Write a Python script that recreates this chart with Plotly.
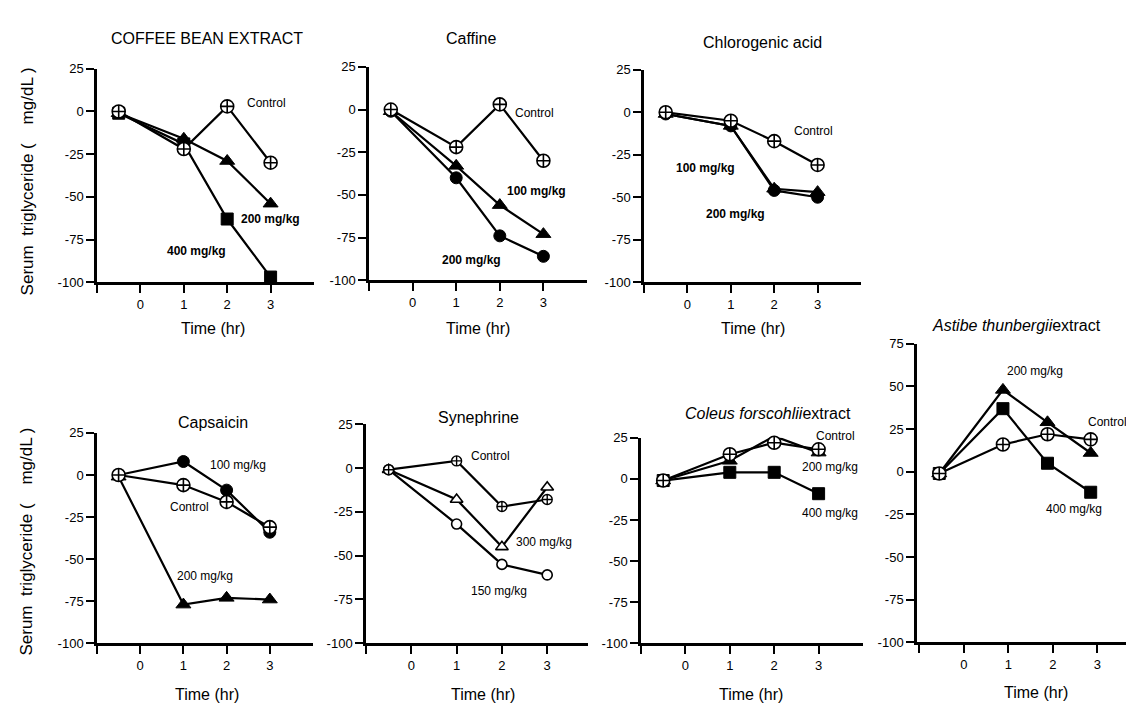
import plotly.graph_objects as go

# ---------------- data ----------------
TIME = [-0.5, 1, 2, 3]
ASTIBE_TIME = [-0.55, 0.88, 1.88, 2.85]
X_TICKS = [-1, 0, 1, 2, 3]
X_TICK_TEXT = ["", "0", "1", "2", "3"]
Y_TICKS = [-100, -75, -50, -25, 0, 25]
Y_TICKS_ASTIBE = [-100, -75, -50, -25, 0, 25, 50, 75]

coffee_control = [0, -22, 3, -30]
coffee_200 = [-1, -16, -29, -54]
coffee_400 = [-1, -19, -63, -97]

caffine_control = [0, -22, 3, -30]
caffine_100 = [-1, -33, -56, -73]
caffine_200 = [-1, -40, -74, -86]

chloro_control = [0, -5, -17, -31]
chloro_100 = [-1, -8, -45, -47]
chloro_200 = [-1, -8, -46, -50]

caps_control = [0, -6, -16, -31]
caps_100 = [0, 8, -9, -34]
caps_200 = [-1, -77, -73, -74]

syn_control = [-1, 4, -22, -18]
syn_300 = [-1, -18, -45, -11]
syn_150 = [-1, -32, -55, -61]

coleus_control = [-1, 15, 22, 18]
coleus_200 = [-1, 11, 26, 16]
coleus_400 = [-1, 4, 4, -9]

astibe_control = [-1, 16, 22, 19]
astibe_200 = [-1, 48, 29, 11]
astibe_400 = [-1, 37, 5, -12]

TITLES = ["COFFEE BEAN EXTRACT", "Caffine", "Chlorogenic acid", "Capsaicin",
          "Synephrine", "<i>Coleus forscohlii</i>extract", "<i>Astibe thunbergii</i>extract"]
X_TITLE = "Time (hr)"
Y_TITLE = "Serum  triglyceride (\u00a0\u00a0\u00a0 mg/dL )"

# ---------------- layout helpers ----------------
W, H = 1134, 704
FONT = "Arial, 'Liberation Sans', sans-serif"

def xd(a, b):
    return [a / W, b / W]

def yd(top, bottom):
    return [1 - bottom / H, 1 - top / H]

# (x domain px, y domain px top/bottom, x range, y range, y ticks)
panels = [
    ((89, 306), (55, 273), [-1, 4], [-100, 25], Y_TICKS),
    ((361, 579), (53, 271), [-1, 4], [-100, 25], Y_TICKS),
    ((636, 853), (56, 273), [-1, 4], [-100, 25], Y_TICKS),
    ((89, 305), (427, 642), [-1, 4], [-100, 25], Y_TICKS),
    ((358, 580), (418, 642), [-1, 3.9], [-100, 25], Y_TICKS),
    ((633, 855), (432, 642), [-1, 4], [-100, 25], Y_TICKS),
    ((909, 1125), (336, 641), [-1.05, 3.8], [-100, 75], Y_TICKS_ASTIBE),
]

fig = go.Figure()
layout = dict(width=W, height=H, margin=dict(l=0, r=0, t=0, b=0),
              plot_bgcolor="white", paper_bgcolor="white", showlegend=False,
              font=dict(family=FONT, color="black"))

for i, (xdp, ydp, xr, yr, yt) in enumerate(panels):
    n = "" if i == 0 else str(i + 1)
    layout["xaxis" + n] = dict(domain=xd(*xdp), range=xr, anchor="y" + n,
                               showline=True, linewidth=2.5, linecolor="black",
                               ticks="outside", ticklen=8, tickwidth=2, tickcolor="black",
                               tickvals=X_TICKS, ticktext=X_TICK_TEXT,
                               showgrid=False, zeroline=False,
                               tickfont=dict(size=13, family=FONT, color="black"))
    layout["yaxis" + n] = dict(domain=yd(*ydp), range=yr, anchor="x" + n,
                               showline=True, linewidth=2.5, linecolor="black",
                               ticks="outside", ticklen=8, tickwidth=2, tickcolor="black",
                               tickvals=yt, ticktext=[str(v) for v in yt],
                               showgrid=False, zeroline=False,
                               tickfont=dict(size=13, family=FONT, color="black"))
fig.update_layout(**layout)

CTRL = dict(symbol="circle-cross", color="white", size=13, line=dict(color="black", width=1.6))
TRI = dict(symbol="triangle-up", color="black", size=13, line=dict(color="black", width=1))
SQ = dict(symbol="square", color="black", size=12, line=dict(color="black", width=1))
CIR = dict(symbol="circle", color="black", size=12, line=dict(color="black", width=1))
CTRL_S = dict(symbol="circle-cross", color="white", size=10, line=dict(color="black", width=1.4))
TRI_O = dict(symbol="triangle-up", color="white", size=11, line=dict(color="black", width=1.6))
CIR_O = dict(symbol="circle", color="white", size=10, line=dict(color="black", width=1.6))

def add(x, y, marker, k):
    n = "" if k == 0 else str(k + 1)
    fig.add_trace(go.Scatter(x=x, y=y, mode="lines+markers", marker=marker,
                             line=dict(color="black", width=2.2),
                             xaxis="x" + n, yaxis="y" + n, cliponaxis=False))

series = [
    (0, [(coffee_400, SQ), (coffee_200, TRI), (coffee_control, CTRL)]),
    (1, [(caffine_200, CIR), (caffine_100, TRI), (caffine_control, CTRL)]),
    (2, [(chloro_200, CIR), (chloro_100, TRI), (chloro_control, CTRL)]),
    (3, [(caps_200, TRI), (caps_100, CIR), (caps_control, CTRL)]),
    (4, [(syn_150, CIR_O), (syn_300, TRI_O), (syn_control, CTRL_S)]),
    (5, [(coleus_400, SQ), (coleus_200, TRI), (coleus_control, CTRL)]),
    (6, [(astibe_400, SQ), (astibe_200, TRI), (astibe_control, CTRL)]),
]
for k, lst in series:
    xs = ASTIBE_TIME if k == 6 else TIME
    for ys, m in lst:
        add(xs, ys, m, k)

# ---------------- annotations ----------------
ann = []

def lab(k, x, y, text, bold=False, yshift=0):
    n = "" if k == 0 else str(k + 1)
    t = "<b>" + text + "</b>" if bold else text
    ann.append(dict(x=x, y=y, xref="x" + n, yref="y" + n, text=t, showarrow=False,
                    xanchor="left", yanchor="middle", yshift=yshift,
                    font=dict(size=12, family=FONT, color="black")))

lab(0, 2.4, 5, "Control")
lab(0, 2.28, -63, "200 mg/kg", True)
lab(0, 0.56, -82, "400 mg/kg", True)
lab(1, 2.3, -2, "Control")
lab(1, 2.11, -48, "100 mg/kg", True)
lab(1, 0.62, -88, "200 mg/kg", True)
lab(2, 2.4, -11, "Control")
lab(2, -0.3, -33, "100 mg/kg", True)
lab(2, 0.39, -60, "200 mg/kg", True)
lab(3, 1.56, 6, "100 mg/kg")
lab(3, 0.65, -19, "Control")
lab(3, 0.81, -60, "200 mg/kg")
lab(4, 1.28, 7, "Control")
lab(4, 2.27, -42, "300 mg/kg")
lab(4, 1.28, -70, "150 mg/kg")
lab(5, 2.89, 25, "Control", yshift=2)
lab(5, 2.59, 7, "200 mg/kg")
lab(5, 2.59, -21, "400 mg/kg")
lab(6, 0.92, 59, "200 mg/kg")
lab(6, 2.75, 29, "Control")
lab(6, 1.81, -22, "400 mg/kg")

def ptext(px, py, text, size, angle=0):
    ann.append(dict(x=px / W, y=1 - py / H, xref="paper", yref="paper", text=text,
                    showarrow=False, xanchor="center", yanchor="middle", textangle=angle,
                    font=dict(size=size, family=FONT, color="black")))

title_pos = [(199, 24), (463, 24), (754, 28), (205, 416), (470, 411), (760, 407), (1008, 317)]
for (px, py), t in zip(title_pos, TITLES):
    ptext(px, py, t, 16)

xt_pos = [(205, 320), (470, 320), (745, 320), (199, 694), (475, 694), (743, 694), (1028, 692)]
for px, py in xt_pos:
    ptext(px, py, X_TITLE, 16)

ptext(19, 170, Y_TITLE, 17, -90)
ptext(19, 538, Y_TITLE, 17, -90)

fig.update_layout(annotations=ann)
fig.write_html("out.html")
